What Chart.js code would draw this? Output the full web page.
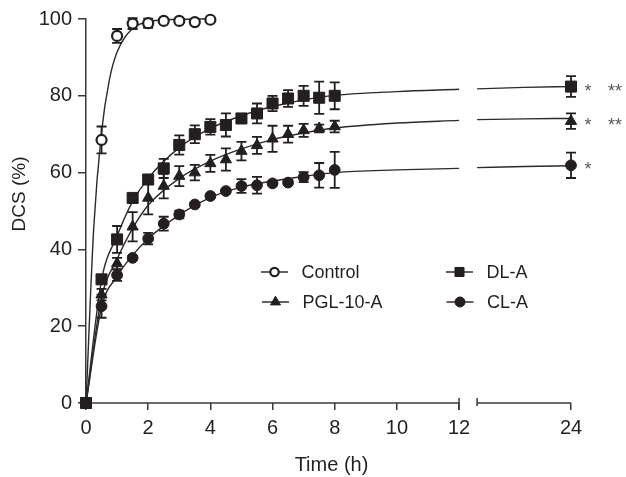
<!DOCTYPE html>
<html>
<head>
<meta charset="utf-8">
<script src="https://cdn.jsdelivr.net/npm/chart.js@4.4.1/dist/chart.umd.min.js"></script>
<style>
  body { margin: 0; background: #fff; }
</style>
</head>
<body>
<canvas id="chart" width="626" height="477"></canvas>
<script>
const INK = "#231f20";
const FONT = "'Liberation Sans', Arial, sans-serif";

// sampling times (h)
const times = [0, 0.5, 1, 1.5, 2, 2.5, 3, 3.5, 4, 4.5, 5, 5.5, 6, 6.5, 7, 7.5, 8, 24];
const controlTimes = [0, 0.5, 1, 1.5, 2, 2.5, 3, 3.5, 4];

// mean DCS (%) and error bars
const controlValues = [0, 68.5, 95.6, 98.8, 98.9, 99.5, 99.5, 99.2, 99.8];
const controlErr    = [0, 3.5, 1.8, 1.4, 1.2, 0.5, 0.5, 0.5, 0.5];

const dlValues = [0, 32.2, 42.6, 53.4, 58.2, 61.1, 67.2, 70, 71.9, 72.4, 74.1, 75.4, 78, 79.3, 80, 79.5, 80, 82.4];
const dlErr    = [0, 0.8, 3.5, 0.8, 0.8, 2.5, 2.5, 2.3, 2, 3, 1.2, 2.6, 2, 2.2, 2.6, 4.2, 3.5, 2.7];

const pglValues = [0, 28.2, 36.3, 45.9, 53.4, 56.5, 59.1, 60, 62.4, 63.4, 65.6, 67.1, 68.8, 70, 71, 71.5, 72, 73.4];
const pglErr    = [0, 1.5, 1.5, 3.8, 4.3, 3.2, 2.6, 2, 2.2, 2.9, 2.4, 2.2, 3.4, 2.2, 1.7, 1, 1.5, 2];

const clValues = [0, 25.2, 33.3, 37.8, 42.8, 46.7, 49.1, 51.7, 53.9, 55.2, 56.5, 56.7, 57.2, 57.4, 58.8, 59.3, 60.7, 61.9];
const clErr    = [0, 3, 1.5, 0.5, 1.5, 1.8, 1, 0.5, 0.5, 0.5, 1.8, 2.2, 0.5, 0.5, 1.3, 3.2, 4.7, 3.3];

// fitted curves
const controlFitTimes = [0, 0.25, 0.5, 0.75, 1, 1.5, 2, 3, 4];
const controlFit      = [0, 45.8, 70.6, 84.1, 91.4, 97.5, 99.3, 99.9, 100];

const fitTimes     = [0, 0.5, 1, 1.5, 2, 3, 4, 5, 6, 7, 8, 10, 12];
const fitTimesLate = [12, 18, 24];
const dlFit      = [0, 32, 43.5, 52.5, 58.5, 66.5, 71.5, 74.8, 77.2, 78.9, 80.1, 81.1, 81.7];
const dlFitLate  = [81.8, 82.2, 82.4];
const pglFit     = [0, 27.5, 37.5, 45.5, 51.5, 58.5, 63, 66.2, 68.6, 70.3, 71.6, 72.9, 73.6];
const pglFitLate = [73.8, 74, 74.1];
const clFit      = [0, 25, 33, 38.5, 42.8, 49, 53.5, 56.2, 57.8, 59, 60, 60.7, 61.1];
const clFitLate  = [61.3, 61.6, 61.8];

const xTickHours = [0, 2, 4, 6, 8, 10, 12, 24];
const significance = [["DL-A", "*", "**"], ["PGL-10-A", "*", "**"], ["CL-A", "*", ""]];

// broken time axis: 0-12 h linear, then a short gap, then 12-24 h compressed
const BREAK_GAP = 0.58;
const LATE_SCALE = 3.02 / 12;
function toAxis(t) {
  return t <= 12 ? t : 12 + BREAK_GAP + (t - 12) * LATE_SCALE;
}
function toAxisLate(t) {
  return 12 + BREAK_GAP + (t - 12) * LATE_SCALE;
}

const pts = (ts, vs, f = toAxis) => ts.map((t, i) => ({ x: f(t), y: vs[i] }));

function curve(data) {
  return {
    type: "line", data, order: 3, clip: false,
    borderColor: "#2b2b2b", borderWidth: 1.4,
    pointRadius: 0, cubicInterpolationMode: "monotone", fill: false
  };
}

function markers(label, data, errors, style, radius, fillColor, order) {
  return {
    type: "scatter", label, data, errors, order, clip: false,
    showLine: false, pointStyle: style, pointRadius: radius,
    pointBackgroundColor: fillColor, pointBorderColor: INK,
    pointBorderWidth: fillColor === "#fff" ? 2.2 : 1
  };
}

const errorBars = {
  id: "errorBars",
  beforeDatasetDraw(chart, args) {
    const ds = chart.data.datasets[args.index];
    if (!ds.errors) return;
    const y = chart.scales.y, ctx = chart.ctx;
    ctx.save();
    ctx.strokeStyle = INK;
    ctx.lineWidth = 1.8;
    args.meta.data.forEach((pt, i) => {
      const e = ds.errors[i];
      if (!e) return;
      const v = ds.data[i].y;
      const top = y.getPixelForValue(v + e), bot = y.getPixelForValue(v - e);
      ctx.beginPath();
      ctx.moveTo(pt.x, top); ctx.lineTo(pt.x, bot);
      ctx.moveTo(pt.x - 5, top); ctx.lineTo(pt.x + 5, top);
      ctx.moveTo(pt.x - 5, bot); ctx.lineTo(pt.x + 5, bot);
      ctx.stroke();
    });
    ctx.restore();
  }
};

const brokenAxis = {
  id: "brokenAxis",
  beforeDatasetsDraw(chart) {
    const { ctx, scales: { x, y } } = chart;
    const y0 = y.getPixelForValue(0);
    const a = x.getPixelForValue(0), b = x.getPixelForValue(12);
    const c = x.getPixelForValue(toAxisLate(12)), d = x.getPixelForValue(toAxis(24));
    ctx.save();
    ctx.strokeStyle = "#3a3a3a";
    ctx.lineWidth = 1.5;
    ctx.beginPath();
    ctx.moveTo(a, y0); ctx.lineTo(b, y0);
    ctx.moveTo(c, y0); ctx.lineTo(d, y0);
    ctx.moveTo(b, y0 - 5); ctx.lineTo(b, y0 + 7);
    ctx.moveTo(c, y0 - 5); ctx.lineTo(c, y0 + 3);
    ctx.stroke();

    ctx.fillStyle = INK;
    ctx.font = "20px " + FONT;
    ctx.textAlign = "center";
    ctx.textBaseline = "middle";
    ctx.fillText("Time (h)", (a + d) / 2 + 3, 465);
    ctx.save();
    ctx.translate(20, 194);
    ctx.rotate(-Math.PI / 2);
    ctx.font = "19px " + FONT;
    ctx.fillText("DCS (%)", 0, 0);
    ctx.restore();
    ctx.restore();
  }
};

const legendBox = {
  id: "legendBox",
  afterDraw(chart) {
    const ctx = chart.ctx;
    const entries = [
      ["Control", "circle", 4.2, "#fff", 274.5, 272],
      ["PGL-10-A", "triangle", 5.8, INK, 275.5, 302],
      ["DL-A", "rect", 6.4, INK, 459.5, 272],
      ["CL-A", "circle", 5, INK, 460, 302]
    ];
    ctx.save();
    entries.forEach(([label, style, r, fillColor, mx, my]) => {
      ctx.strokeStyle = INK;
      ctx.lineWidth = 1.4;
      ctx.beginPath();
      ctx.moveTo(mx - 13.5, my); ctx.lineTo(mx + 13.5, my);
      ctx.stroke();
      ctx.fillStyle = fillColor;
      ctx.lineWidth = fillColor === "#fff" ? 2.2 : 1;
      Chart.helpers.drawPoint(ctx, { pointStyle: style, radius: r, borderWidth: ctx.lineWidth, rotation: 0 }, mx, my);
      ctx.fillStyle = INK;
      ctx.font = "18px " + FONT;
      ctx.textAlign = "left";
      ctx.textBaseline = "middle";
      ctx.fillText(label, mx + 27, my + 1);
    });

    // significance marks next to the 24 h points
    const y = chart.scales.y;
    const last = { "DL-A": dlValues, "PGL-10-A": pglValues, "CL-A": clValues };
    ctx.fillStyle = "#58595b";
    ctx.font = "18px " + FONT;
    ctx.textAlign = "center";
    significance.forEach(([name, s1, s2]) => {
      const vals = last[name];
      const py = y.getPixelForValue(vals[vals.length - 1]) + 5;
      ctx.fillText(s1, 588, py);
      if (s2) ctx.fillText(s2, 615, py);
    });
    ctx.restore();
  }
};

new Chart(document.getElementById("chart"), {
  type: "scatter",
  data: {
    datasets: [
      curve(pts(controlFitTimes, controlFit)),
      curve(pts(fitTimes, dlFit)),
      curve(pts(fitTimesLate, dlFitLate, toAxisLate)),
      curve(pts(fitTimes, pglFit)),
      curve(pts(fitTimesLate, pglFitLate, toAxisLate)),
      curve(pts(fitTimes, clFit)),
      curve(pts(fitTimesLate, clFitLate, toAxisLate)),
      markers("DL-A", pts(times, dlValues), dlErr, "rect", 7.8, INK, 1),
      markers("PGL-10-A", pts(times, pglValues), pglErr, "triangle", 6.5, INK, 1),
      markers("CL-A", pts(times, clValues), clErr, "circle", 5.4, INK, 1),
      markers("Control", pts(controlTimes, controlValues), controlErr, "circle", 5, "#fff", 2)
    ]
  },
  options: {
    responsive: false,
    animation: false,
    layout: { padding: { top: 19, right: 55, left: 0, bottom: 0 } },
    plugins: { legend: { display: false }, tooltip: { enabled: false } },
    scales: {
      x: {
        type: "linear",
        min: 0,
        max: toAxis(24),
        afterFit: s => { s.height = 74; },
        afterBuildTicks: s => { s.ticks = xTickHours.map(h => ({ value: toAxis(h) })); },
        border: { display: false },
        grid: { drawOnChartArea: false, tickLength: 7, color: "#3a3a3a", lineWidth: 1.5 },
        ticks: {
          autoSkip: false, maxRotation: 0, padding: 6, color: INK,
          font: { family: FONT, size: 20 },
          callback: v => (v > 12 ? "24" : v)
        }
      },
      y: {
        min: 0,
        max: 100,
        afterFit: s => { s.width = 86; },
        border: { display: true, color: "#3a3a3a", width: 1.5 },
        grid: { drawOnChartArea: false, tickLength: 8, color: "#3a3a3a", lineWidth: 1.5 },
        ticks: { stepSize: 20, padding: 6, color: INK, font: { family: FONT, size: 20 } }
      }
    }
  },
  plugins: [errorBars, brokenAxis, legendBox]
});
</script>
</body>
</html>
